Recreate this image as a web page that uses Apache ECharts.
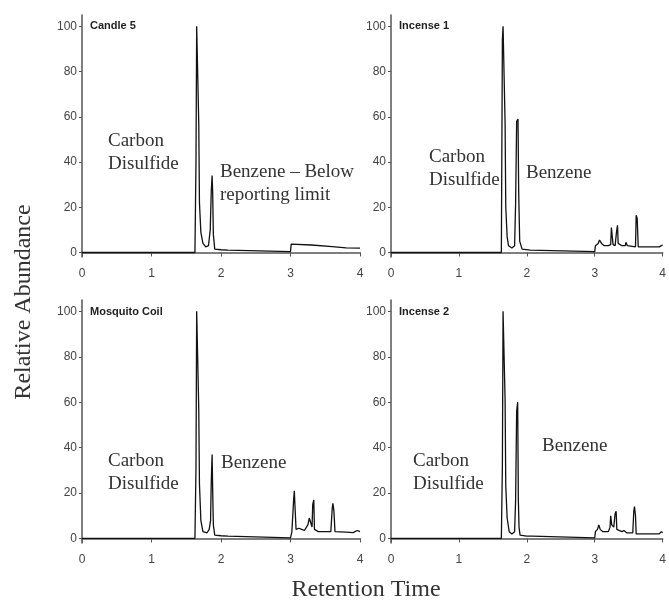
<!DOCTYPE html>
<html>
<head>
<meta charset="utf-8">
<script src="https://cdn.jsdelivr.net/npm/echarts@6/dist/echarts.min.js"></script>
<style>
html,body{margin:0;padding:0;background:#fff;}
#chart{width:669px;height:603px;}
</style>
</head>
<body>
<div id="chart"></div>
<script>
// retention time (min) vs relative abundance (%)
var candle5 = [[0,0],[1.625,0],[1.64,40],[1.65,100],[1.672,100],[1.68,57],[1.69,22],[1.71,9],[1.74,4],[1.78,2.5],[1.82,3],[1.845,10],[1.86,27],[1.872,34],[1.88,27],[1.89,8],[1.91,1.5],[2.0,1.2],[2.1,1],[2.12,0.4],[3.0,0.4],[3.01,3.7],[3.3,3.3],[3.6,2.6],[3.8,2],[4.0,1.9]];
var incense1 = [[0,0],[1.625,0],[1.64,94],[1.65,100],[1.668,100],[1.68,57],[1.69,20],[1.71,7],[1.73,3],[1.78,2],[1.82,3],[1.835,22],[1.85,58],[1.87,59],[1.88,27],[1.895,5],[1.93,1.5],[2.05,1],[2.07,0.4],[3.0,0.4],[3.01,3],[3.05,4],[3.07,5.5],[3.1,4],[3.14,3],[3.2,3],[3.235,3.5],[3.245,11],[3.26,11],[3.27,3.5],[3.3,3],[3.32,9],[3.335,12],[3.345,4],[3.4,3],[3.45,3],[3.46,4.5],[3.48,3],[3.6,2.5],[3.61,16.5],[3.625,15],[3.64,2.5],[3.95,2.5],[3.98,3],[4.0,3.2]];
var mosquitoCoil = [[0,0],[1.625,0],[1.64,31],[1.65,100],[1.67,100],[1.68,57],[1.69,24],[1.71,8],[1.74,3],[1.8,2.5],[1.83,4],[1.85,8],[1.86,25],[1.872,37],[1.88,22],[1.89,6],[1.91,1.5],[2.0,1.2],[2.1,1],[2.12,0.3],[3.0,0.3],[3.02,3],[3.045,17],[3.055,21],[3.065,14],[3.08,4],[3.12,4.5],[3.16,4],[3.2,3.5],[3.25,6],[3.27,9],[3.29,7],[3.31,5],[3.32,15],[3.335,17],[3.345,4],[3.4,3],[3.5,3],[3.58,3],[3.6,13],[3.61,15.5],[3.625,12],[3.64,3],[3.8,2.8],[3.9,2.6],[3.96,3.5],[4.0,3]];
var incense2 = [[0,0],[1.625,0],[1.64,32],[1.65,100],[1.67,100],[1.68,61],[1.69,23],[1.71,9],[1.74,3],[1.78,2],[1.82,3],[1.835,17],[1.85,56],[1.865,60],[1.875,17],[1.885,5],[1.9,1.5],[2.0,1],[2.08,1],[2.1,0.3],[3.0,0.3],[3.01,3],[3.04,4],[3.06,6],[3.08,4],[3.12,3],[3.2,3],[3.225,5],[3.235,10],[3.25,6],[3.28,5],[3.3,11],[3.315,12],[3.325,4],[3.4,3],[3.43,3.5],[3.47,2.5],[3.56,2.5],[3.575,12],[3.585,14],[3.6,10],[3.61,2],[3.95,2],[3.98,3],[4.0,2.5]];

var panelNames = ['Candle 5', 'Incense 1', 'Mosquito Coil', 'Incense 2'];
var panelData = [candle5, incense1, mosquitoCoil, incense2];
var yTicks = [0, 20, 40, 60, 80, 100];

var chart = echarts.init(document.getElementById('chart'));

var grids = [
  {left: 82, top: 15, width: 278, height: 242},
  {left: 391, top: 15, width: 278, height: 242},
  {left: 82, top: 300, width: 278, height: 243},
  {left: 391, top: 300, width: 278, height: 243}
];

var tickFont = {color: '#444', fontSize: 12, fontFamily: 'Liberation Sans, Arial, sans-serif'};
var axisLine = {show: true, lineStyle: {color: '#555', width: 1.5}};

var xAxes = [], yAxes = [], series = [];
for (var i = 0; i < 4; i++) {
  xAxes.push({
    gridIndex: i, type: 'value', min: 0, max: 4, interval: 1,
    axisLine: axisLine,
    axisTick: {show: true, length: 4, lineStyle: {color: '#555'}},
    axisLabel: Object.assign({margin: 11, showMaxLabel: true}, tickFont),
    splitLine: {show: false}
  });
  yAxes.push({
    gridIndex: i, type: 'value', min: -2, max: 105,
    axisLine: axisLine,
    axisTick: {show: true, length: 3, customValues: yTicks, lineStyle: {color: '#555'}},
    axisLabel: Object.assign({margin: 5, customValues: yTicks}, tickFont),
    splitLine: {show: false}
  });
  series.push({
    type: 'line', xAxisIndex: i, yAxisIndex: i,
    data: panelData[i], showSymbol: false, silent: true,
    lineStyle: {color: '#111', width: 1.3}
  });
}

var serif = 'Liberation Serif, Times New Roman, serif';
function note(x, y, text) {
  return {type: 'text', x: x, y: y, style: {text: text, font: '19px ' + serif, fill: '#333', lineHeight: 23, verticalAlign: 'middle'}};
}
function title(x, y, text) {
  return {type: 'text', x: x, y: y, style: {text: text, font: 'bold 11px Liberation Sans, Arial, sans-serif', fill: '#222', verticalAlign: 'middle'}};
}

chart.setOption({
  animation: false,
  grid: grids,
  xAxis: xAxes,
  yAxis: yAxes,
  series: series,
  graphic: [
    title(90, 26, panelNames[0]),
    title(399, 26, panelNames[1]),
    title(90, 312, panelNames[2]),
    title(399, 312, panelNames[3]),
    note(108, 153, 'Carbon\nDisulfide'),
    note(220, 184, 'Benzene \u2013 Below\nreporting limit'),
    note(429, 169, 'Carbon\nDisulfide'),
    note(526, 173, 'Benzene'),
    note(108, 473, 'Carbon\nDisulfide'),
    note(221, 463, 'Benzene'),
    note(413, 473, 'Carbon\nDisulfide'),
    note(542, 446, 'Benzene'),
    {type: 'text', x: 24, y: 302, rotation: Math.PI / 2,
      style: {text: 'Relative Abundance', font: '24px ' + serif, fill: '#333', align: 'center', verticalAlign: 'middle'}},
    {type: 'text', x: 366, y: 590,
      style: {text: 'Retention Time', font: '24px ' + serif, fill: '#333', align: 'center', verticalAlign: 'middle'}}
  ]
});
</script>
</body>
</html>
